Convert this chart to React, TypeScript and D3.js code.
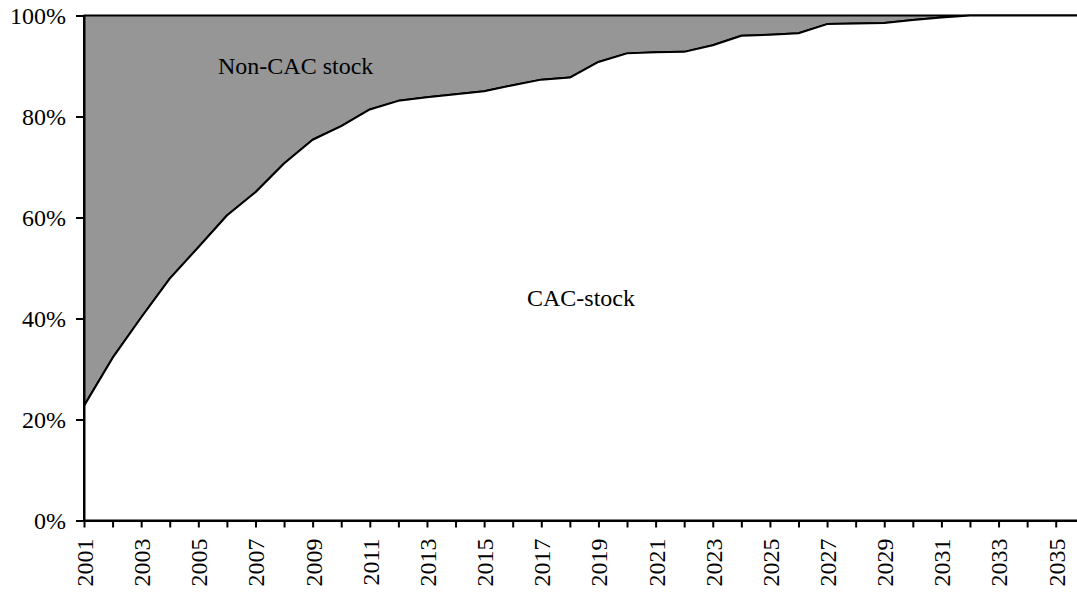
import React, { useEffect, useRef } from 'react';
import * as d3 from 'd3';

// years on the x axis
const years = d3.range(2001, 2037);

// share of the stock that is CAC (%)
const cacShare = [
  22.7, 32.2, 40.2, 47.9, 54.1, 60.4, 65.0, 70.7, 75.4, 78.1,
  81.4, 83.1, 83.8, 84.4, 85.0, 86.2, 87.3, 87.7, 90.8, 92.5,
  92.7, 92.8, 94.1, 96.0, 96.2, 96.5, 98.3, 98.4, 98.5, 99.1,
  99.6, 100, 100, 100, 100, 100,
];

const yTicks = [0, 20, 40, 60, 80, 100];
const seriesNames = ['CAC-stock', 'Non-CAC stock'];

const App = () => {
  const ref = useRef<SVGSVGElement>(null);

  useEffect(() => {
    document.body.style.margin = '0';
    const svg = d3.select(ref.current);
    svg.selectAll('*').remove();

    const width = 1077;
    const height = 592;
    const font = 'Liberation Serif';

    const x = d3.scaleLinear().domain([2001, 2036]).range([84, 84 + 35 * 28.58]);
    const y = d3.scaleLinear().domain([0, 100]).range([520.5, 15.5]);

    const rows = years.map((yr, i) => ({ year: yr, cac: cacShare[i], non: 100 - cacShare[i] }));
    const stack = d3.stack<any>().keys(['cac', 'non'])(rows);

    const area = d3.area<any>()
      .x(d => x(d.data.year))
      .y0(d => y(d[0]))
      .y1(d => y(d[1]));

    const fills = ['#ffffff', '#969696'];

    // gray layer first, then the white one over it
    svg.append('g')
      .selectAll('path')
      .data(stack.slice().reverse())
      .enter()
      .append('path')
      .attr('d', d => area(d))
      .attr('fill', d => fills[d.index])
      .attr('stroke', '#000')
      .attr('stroke-width', 2)
      .attr('stroke-linejoin', 'round');

    // series labels
    svg.append('text')
      .attr('x', x(2005.69))
      .attr('y', y(88.4))
      .style('font-family', font)
      .style('font-size', '24px')
      .text(seriesNames[1]);

    svg.append('text')
      .attr('x', x(2016.5))
      .attr('y', y(42.4))
      .style('font-family', font)
      .style('font-size', '24px')
      .text(seriesNames[0]);

    // y axis
    const yAxis = svg.append('g')
      .attr('transform', `translate(${x(2001)},0)`)
      .call(d3.axisLeft(y).tickValues(yTicks).tickFormat(d => `${d}%`).tickSize(8).tickPadding(10));
    yAxis.select('.domain').attr('stroke', '#000').attr('stroke-width', 2);
    yAxis.selectAll('.tick line').attr('stroke', '#000').attr('stroke-width', 2);
    yAxis.selectAll('text')
      .style('font-family', font)
      .style('font-size', '24px')
      .attr('fill', '#000');

    // x axis
    const xAxis = svg.append('g')
      .attr('transform', `translate(0,${y(0)})`)
      .call(
        d3.axisBottom(x)
          .tickValues(years.filter(v => v <= 2035))
          .tickFormat(d => ((d as number) % 2 === 1 ? String(d) : ''))
          .tickSize(7)
          .tickSizeOuter(0)
      );
    xAxis.select('.domain').attr('stroke', '#000').attr('stroke-width', 2);
    xAxis.selectAll('.tick line').attr('stroke', '#000').attr('stroke-width', 2);
    xAxis.selectAll('text')
      .style('font-family', font)
      .style('font-size', '24px')
      .attr('fill', '#000')
      .attr('text-anchor', 'end')
      .attr('dy', '0.35em')
      .attr('transform', 'translate(0,18) rotate(-90)')
      .attr('x', 0)
      .attr('y', 0);

    svg.attr('width', width).attr('height', height);
  }, []);

  return <svg ref={ref} width={1077} height={592} style={{ display: 'block' }} />;
};

export default App;
